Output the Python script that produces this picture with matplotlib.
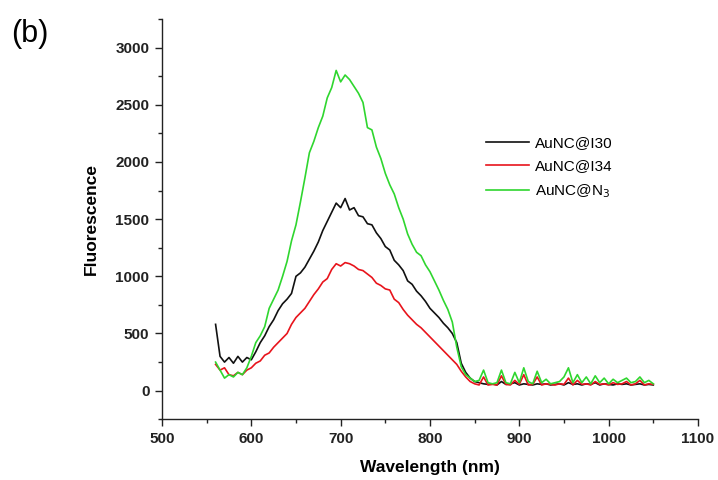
import matplotlib
matplotlib.use("Agg")
import matplotlib.pyplot as plt
from matplotlib.ticker import MultipleLocator

plt.rcParams['font.family'] = ['Liberation Sans', 'DejaVu Sans']

wavelength = list(range(560, 1051, 5))

green_n3 = [250, 180, 110, 140, 120, 160, 140, 200, 300, 420,
            480, 560, 720, 800, 880, 1000, 1130, 1310, 1450, 1650,
            1860, 2080, 2180, 2300, 2400, 2560, 2650, 2800, 2700, 2760,
            2720, 2660, 2600, 2520, 2300, 2280, 2130, 2030, 1900, 1800,
            1720, 1600, 1500, 1370, 1280, 1210, 1180, 1100, 1040, 960,
            880, 790, 710, 600, 380, 210, 140, 110, 80, 90,
            180, 70, 60, 70, 180, 70, 60, 160, 70, 200,
            80, 60, 170, 70, 100, 60, 70, 80, 120, 200,
            70, 140, 70, 120, 60, 130, 70, 110, 60, 100,
            70, 90, 110, 70, 80, 120, 70, 90, 60]

black_i30 = [580, 300, 250, 290, 240, 300, 250, 290, 270, 340,
             420, 480, 560, 620, 700, 760, 800, 850, 1000, 1030,
             1080, 1150, 1220, 1300, 1400, 1480, 1560, 1640, 1600, 1680,
             1580, 1600, 1530, 1520, 1460, 1450, 1380, 1330, 1260, 1230,
             1140, 1100, 1050, 960, 930, 870, 830, 780, 720, 680,
             640, 590, 550, 500, 420, 240, 160, 110, 80, 70,
             60, 55, 60, 50, 80, 55, 60, 70, 50, 60,
             55, 50, 60, 55, 60, 50, 55, 60, 50, 70,
             55, 60, 50, 60, 55, 70, 50, 60, 55, 50,
             60, 55, 60, 50, 55, 60, 50, 55, 50]

red_i34 = [230, 180, 200, 140, 130, 160, 140, 180, 200, 240,
           260, 310, 330, 380, 420, 460, 500, 580, 640, 680,
           720, 780, 840, 890, 950, 980, 1060, 1110, 1090, 1120,
           1110, 1090, 1060, 1050, 1020, 990, 940, 920, 890, 880,
           800, 770, 710, 660, 620, 580, 550, 510, 470, 430,
           390, 350, 310, 270, 230, 170, 120, 80, 60, 50,
           120, 50, 55, 50, 130, 55, 50, 90, 55, 140,
           50, 55, 120, 50, 60, 55, 50, 60, 55, 110,
           50, 90, 55, 60, 50, 80, 55, 60, 50, 70,
           55, 60, 80, 50, 60, 90, 50, 60, 55]

labels = ['AuNC@I30', 'AuNC@I34', 'AuNC@N$_3$']
colors = ['#111111', '#e8141c', '#2fd62f']

fig = plt.figure(figsize=(7.18, 4.80), dpi=100)
ax = fig.add_axes([0.2256, 0.1265, 0.7465, 0.834])

ax.plot(wavelength, black_i30, color=colors[0], lw=1.2, label=labels[0])
ax.plot(wavelength, red_i34, color=colors[1], lw=1.2, label=labels[1])
ax.plot(wavelength, green_n3, color=colors[2], lw=1.2, label=labels[2])

ax.set_xlim(500, 1100)
ax.set_ylim(-250, 3250)
ax.xaxis.set_major_locator(MultipleLocator(100))
ax.xaxis.set_minor_locator(MultipleLocator(50))
ax.yaxis.set_major_locator(MultipleLocator(500))
ax.yaxis.set_minor_locator(MultipleLocator(250))

for s in ['top', 'right']:
    ax.spines[s].set_visible(False)
for s in ['left', 'bottom']:
    ax.spines[s].set_linewidth(1.0)
    ax.spines[s].set_color('#222222')

ax.tick_params(which='major', direction='out', length=5, width=1.0, colors='#222222',
               labelsize=11, pad=4)
ax.tick_params(which='minor', direction='out', length=3, width=1.0, colors='#222222')
for t in ax.get_xticklabels() + ax.get_yticklabels():
    t.set_fontweight('bold')

ax.set_xlabel('Wavelength (nm)', fontsize=12.5, fontweight='bold', labelpad=10)
ax.set_ylabel('Fluorescence', fontsize=12.5, fontweight='bold', labelpad=12)

fig.text(0.016, 0.93, '(b)', fontsize=22, ha='left', va='center')

leg = ax.legend(loc='upper left', bbox_to_anchor=(486 / 718, 1 - 136 / 480),
                bbox_transform=fig.transFigure, frameon=False, fontsize=11,
                handlelength=2.8, handletextpad=0.4, labelspacing=0.6,
                borderpad=0, borderaxespad=0)

fig.savefig('out.png', dpi=100)
